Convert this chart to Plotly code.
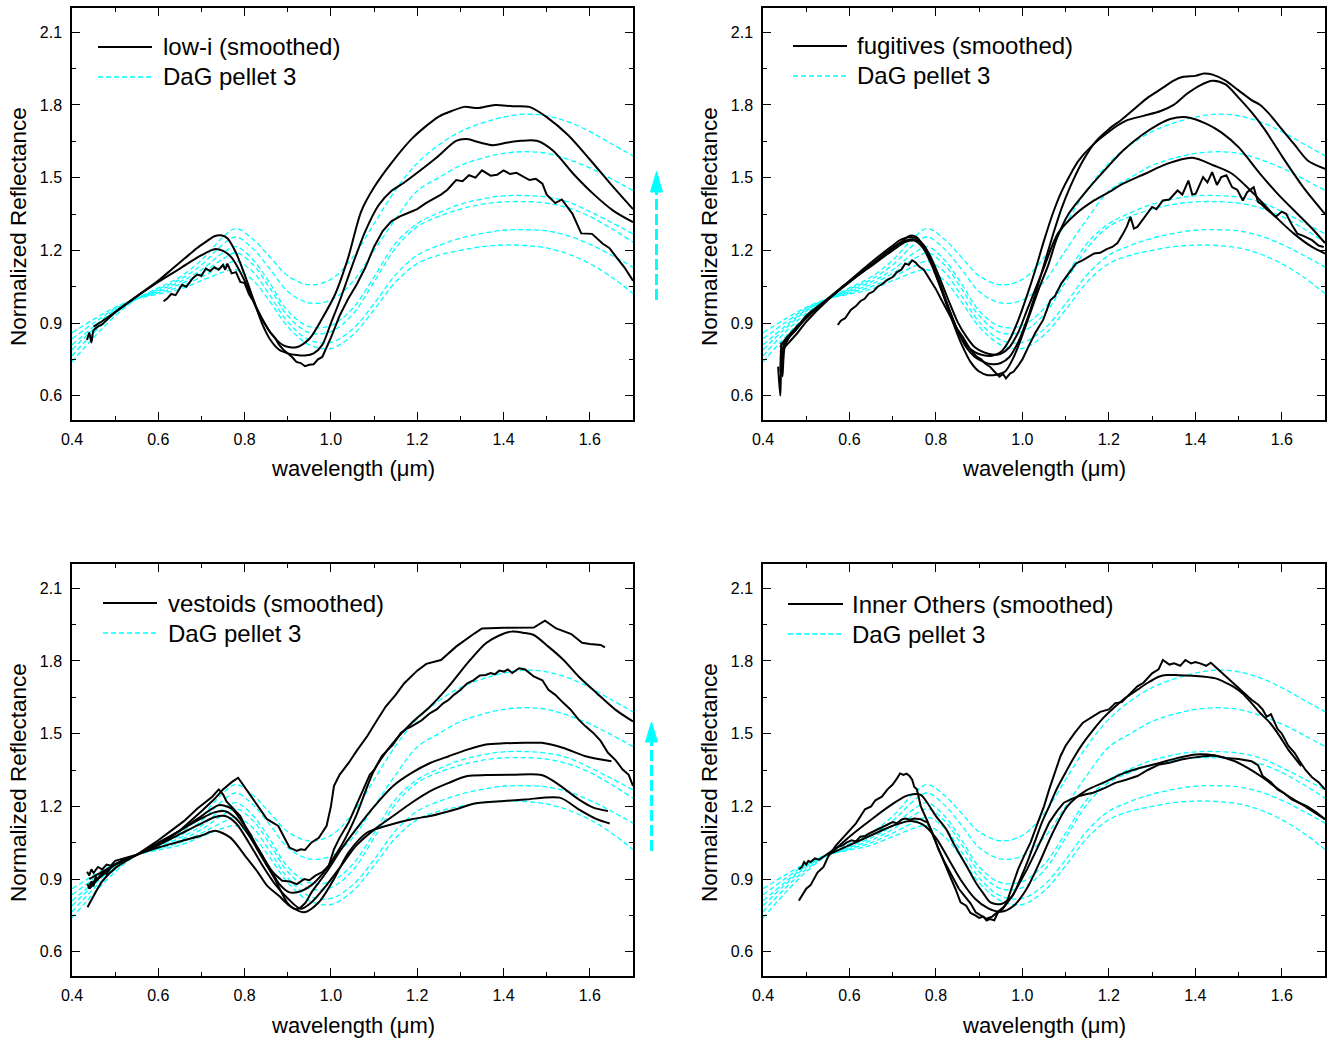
import plotly.graph_objects as go

# ---------------------------------------------------------------- data
# DaG pellet 3 laboratory spectra (same set drawn in every panel)
dag_wl = [0.40, 0.45, 0.50, 0.55, 0.60, 0.65, 0.70, 0.75, 0.78, 0.82, 0.86, 0.90, 0.95, 1.00,
          1.05, 1.10, 1.15, 1.20, 1.25, 1.30, 1.35, 1.40, 1.45, 1.50, 1.55, 1.60, 1.65, 1.70]
dag_1 = [0.74, 0.84, 0.93, 1.00, 1.045, 1.09, 1.16, 1.255, 1.29, 1.245, 1.17, 1.095, 1.058, 1.08,
         1.17, 1.31, 1.45, 1.56, 1.635, 1.69, 1.725, 1.75, 1.762, 1.755, 1.73, 1.69, 1.64, 1.59]
dag_2 = [0.765, 0.86, 0.94, 1.00, 1.04, 1.08, 1.14, 1.225, 1.255, 1.205, 1.12, 1.03, 0.983, 0.995,
         1.07, 1.20, 1.33, 1.445, 1.50, 1.55, 1.58, 1.60, 1.607, 1.60, 1.575, 1.54, 1.495, 1.447]
dag_3 = [0.79, 0.875, 0.95, 1.00, 1.035, 1.07, 1.12, 1.19, 1.215, 1.16, 1.06, 0.95, 0.885, 0.89,
         0.96, 1.09, 1.23, 1.31, 1.355, 1.39, 1.412, 1.425, 1.426, 1.42, 1.40, 1.36, 1.315, 1.268]
dag_4 = [0.81, 0.885, 0.955, 1.00, 1.03, 1.06, 1.105, 1.165, 1.19, 1.14, 1.04, 0.93, 0.86, 0.865,
         0.935, 1.07, 1.21, 1.298, 1.34, 1.37, 1.39, 1.40, 1.401, 1.395, 1.375, 1.34, 1.29, 1.234]
dag_5 = [0.835, 0.90, 0.96, 1.00, 1.025, 1.05, 1.09, 1.135, 1.155, 1.11, 1.01, 0.905, 0.83, 0.82,
         0.875, 0.98, 1.10, 1.18, 1.22, 1.25, 1.27, 1.283, 1.285, 1.28, 1.26, 1.225, 1.18, 1.131]
dag_6 = [0.86, 0.915, 0.965, 1.00, 1.02, 1.04, 1.075, 1.11, 1.12, 1.075, 0.985, 0.885, 0.81, 0.795,
         0.85, 0.955, 1.07, 1.145, 1.18, 1.20, 1.215, 1.222, 1.22, 1.21, 1.185, 1.145, 1.09, 1.022]

# ---- low-i
low_i_a_wl = [0.45, 0.48, 0.50, 0.55, 0.60, 0.65, 0.70, 0.73, 0.75, 0.77, 0.80, 0.83, 0.86, 0.89,
              0.92, 0.95, 0.98, 1.01, 1.04, 1.07, 1.10, 1.14, 1.19, 1.25, 1.28, 1.31, 1.34, 1.38,
              1.42, 1.46, 1.50, 1.55, 1.60, 1.65, 1.70]
low_i_a_r = [0.885, 0.92, 0.945, 1.01, 1.07, 1.125, 1.18, 1.205, 1.198, 1.17, 1.075, 0.955, 0.86,
             0.808, 0.80, 0.835, 0.92, 1.02, 1.17, 1.36, 1.46, 1.56, 1.665, 1.752, 1.775, 1.792,
             1.787, 1.80, 1.795, 1.792, 1.75, 1.675, 1.575, 1.47, 1.37]
low_i_b_wl = [0.435, 0.44, 0.445, 0.45, 0.46, 0.47, 0.50, 0.55, 0.60, 0.63, 0.66, 0.69, 0.71, 0.73,
              0.745, 0.76, 0.78, 0.80, 0.82, 0.84, 0.86, 0.88, 0.90, 0.92, 0.94, 0.96, 0.98, 1.00,
              1.02, 1.05, 1.08, 1.11, 1.14, 1.17, 1.20, 1.245, 1.29, 1.315, 1.345, 1.376, 1.41,
              1.44, 1.477, 1.515, 1.562, 1.608, 1.654, 1.70]
low_i_b_r = [0.83, 0.86, 0.82, 0.87, 0.885, 0.895, 0.945, 1.01, 1.075, 1.12, 1.165, 1.21, 1.235,
             1.258, 1.262, 1.25, 1.19, 1.10, 1.00, 0.90, 0.83, 0.79, 0.775, 0.768, 0.766, 0.775,
             0.81, 0.90, 0.99, 1.14, 1.28, 1.385, 1.445, 1.48, 1.52, 1.583, 1.652, 1.659, 1.645,
             1.634, 1.645, 1.652, 1.652, 1.611, 1.515, 1.433, 1.364, 1.316]
low_i_c_wl = [0.612, 0.62, 0.63, 0.64, 0.655, 0.665, 0.68, 0.69, 0.70, 0.71, 0.72, 0.73, 0.74, 0.75,
              0.755, 0.76, 0.77, 0.78, 0.79, 0.80, 0.81, 0.82, 0.835, 0.85, 0.86, 0.87, 0.88, 0.89,
              0.90, 0.91, 0.92, 0.93, 0.94, 0.95, 0.96, 0.97, 0.98, 0.99, 1.00, 1.02, 1.04, 1.06,
              1.08, 1.10, 1.12, 1.14, 1.16, 1.18, 1.20, 1.22, 1.24, 1.255, 1.27, 1.29, 1.305, 1.32,
              1.335, 1.35, 1.37, 1.385, 1.40, 1.415, 1.43, 1.445, 1.46, 1.475, 1.49, 1.50, 1.52,
              1.535, 1.56, 1.58, 1.605, 1.63, 1.645, 1.66, 1.68, 1.70]
low_i_c_r = [0.99, 1.0, 1.02, 1.015, 1.058, 1.05, 1.085, 1.10, 1.095, 1.125, 1.115, 1.13, 1.12, 1.14,
             1.12, 1.145, 1.105, 1.11, 1.07, 1.065, 1.02, 0.99, 0.93, 0.89, 0.86, 0.84, 0.81, 0.79,
             0.775, 0.76, 0.74, 0.735, 0.722, 0.728, 0.73, 0.75, 0.76, 0.80, 0.84, 0.93, 1.0, 1.06,
             1.13, 1.215, 1.28, 1.32, 1.34, 1.355, 1.37, 1.395, 1.415, 1.43, 1.45, 1.49, 1.485,
             1.51, 1.50, 1.53, 1.508, 1.512, 1.53, 1.515, 1.52, 1.505, 1.49, 1.495, 1.475, 1.43,
             1.395, 1.41, 1.35, 1.27, 1.268, 1.227, 1.21, 1.175, 1.13, 1.075]

# ---- fugitives
fug_a_wl = [0.44, 0.442, 0.445, 0.45, 0.46, 0.48, 0.50, 0.55, 0.60, 0.65, 0.68, 0.70, 0.72, 0.74,
            0.755, 0.77, 0.79, 0.81, 0.83, 0.85, 0.87, 0.89, 0.91, 0.93, 0.95, 0.97, 0.99, 1.01,
            1.03, 1.05, 1.07, 1.09, 1.11, 1.14, 1.17, 1.20, 1.23, 1.26, 1.29, 1.32, 1.35, 1.37,
            1.40, 1.42, 1.44, 1.47, 1.50, 1.53, 1.55, 1.57, 1.60, 1.63, 1.66, 1.70]
fug_a_r = [0.70, 0.82, 0.68, 0.80, 0.84, 0.88, 0.93, 1.00, 1.07, 1.14, 1.18, 1.21, 1.235, 1.26,
           1.255, 1.22, 1.15, 1.06, 0.96, 0.87, 0.80, 0.76, 0.74, 0.73, 0.735, 0.76, 0.82, 0.91,
           1.02, 1.14, 1.26, 1.37, 1.46, 1.57, 1.65, 1.70, 1.74, 1.785, 1.83, 1.865, 1.90, 1.915,
           1.92, 1.93, 1.925, 1.90, 1.86, 1.82, 1.80, 1.765, 1.70, 1.635, 1.571, 1.536]
fug_b_wl = [0.44, 0.45, 0.48, 0.50, 0.55, 0.60, 0.65, 0.70, 0.73, 0.75, 0.77, 0.79, 0.81, 0.83,
            0.85, 0.87, 0.89, 0.91, 0.93, 0.95, 0.97, 0.99, 1.01, 1.03, 1.05, 1.07, 1.09, 1.11,
            1.13, 1.16, 1.20, 1.24, 1.28, 1.32, 1.35, 1.38, 1.41, 1.44, 1.47, 1.50, 1.53, 1.56,
            1.60, 1.65, 1.70]
fug_b_r = [0.78, 0.80, 0.86, 0.905, 0.995, 1.07, 1.135, 1.20, 1.235, 1.24, 1.21, 1.14, 1.05, 0.96,
           0.87, 0.81, 0.78, 0.767, 0.765, 0.78, 0.83, 0.91, 1.01, 1.12, 1.24, 1.35, 1.44, 1.51,
           1.57, 1.63, 1.69, 1.735, 1.755, 1.775, 1.80, 1.845, 1.88, 1.90, 1.885, 1.83, 1.77,
           1.70, 1.59, 1.46, 1.35]
fug_c_wl = [0.435, 0.44, 0.443, 0.45, 0.47, 0.50, 0.55, 0.60, 0.65, 0.70, 0.72, 0.74, 0.76, 0.78,
            0.80, 0.82, 0.84, 0.86, 0.88, 0.90, 0.92, 0.94, 0.96, 0.98, 1.00, 1.02, 1.04, 1.06,
            1.08, 1.107, 1.149, 1.19, 1.233, 1.275, 1.317, 1.342, 1.38, 1.426, 1.46, 1.50, 1.55,
            1.59, 1.636, 1.67, 1.70]
fug_c_r = [0.72, 0.60, 0.76, 0.82, 0.86, 0.92, 1.00, 1.075, 1.15, 1.22, 1.245, 1.255, 1.245, 1.19,
           1.10, 1.00, 0.90, 0.81, 0.74, 0.70, 0.685, 0.687, 0.70, 0.76, 0.85, 0.95, 1.05, 1.14,
           1.25, 1.351, 1.447, 1.53, 1.612, 1.674, 1.722, 1.742, 1.749, 1.722, 1.687, 1.626,
           1.516, 1.434, 1.351, 1.29, 1.23]
fug_d_wl = [0.44, 0.45, 0.47, 0.50, 0.55, 0.60, 0.65, 0.70, 0.73, 0.75, 0.77, 0.79, 0.81, 0.83,
            0.85, 0.87, 0.89, 0.91, 0.93, 0.95, 0.97, 0.99, 1.01, 1.03, 1.05, 1.082, 1.124, 1.166,
            1.20, 1.233, 1.284, 1.334, 1.393, 1.443, 1.485, 1.535, 1.586, 1.628, 1.67, 1.70]
fug_d_r = [0.80, 0.83, 0.87, 0.925, 1.00, 1.07, 1.14, 1.21, 1.24, 1.245, 1.225, 1.165, 1.08, 0.99,
           0.905, 0.845, 0.80, 0.78, 0.77, 0.773, 0.80, 0.86, 0.95, 1.04, 1.13, 1.269, 1.351,
           1.406, 1.44, 1.475, 1.516, 1.557, 1.582, 1.55, 1.516, 1.434, 1.338, 1.269, 1.214, 1.187]
fug_e_wl = [0.573, 0.58, 0.59, 0.603, 0.615, 0.625, 0.635, 0.645, 0.655, 0.665,
            0.675, 0.687, 0.70, 0.71, 0.72, 0.729, 0.737, 0.745, 0.753, 0.762,
            0.772, 0.787, 0.80, 0.813, 0.83, 0.846, 0.863, 0.88, 0.895, 0.905,
            0.913, 0.925, 0.935, 0.947, 0.955, 0.962, 0.972, 0.98, 0.989, 1.00,
            1.014, 1.03, 1.048, 1.057, 1.065, 1.075, 1.09, 1.105, 1.124, 1.14,
            1.155, 1.166, 1.18, 1.195, 1.208, 1.22, 1.233, 1.242, 1.25, 1.258,
            1.266, 1.275, 1.284, 1.292, 1.30, 1.31, 1.325, 1.34, 1.359, 1.37,
            1.384, 1.393, 1.401, 1.41, 1.418, 1.428, 1.439, 1.45, 1.46, 1.472,
            1.485, 1.497, 1.51, 1.52, 1.535, 1.545, 1.552, 1.565, 1.586, 1.60,
            1.61, 1.625, 1.636, 1.65, 1.67, 1.685, 1.697]
fug_e_r = [0.892, 0.91, 0.92, 0.954, 0.97, 0.99, 1.0, 1.022, 1.03, 1.05,
           1.06, 1.077, 1.09, 1.11, 1.12, 1.146, 1.14, 1.159, 1.15, 1.132,
           1.12, 1.077, 1.04, 0.995, 0.94, 0.885, 0.84, 0.789, 0.76, 0.75,
           0.734, 0.72, 0.70, 0.679, 0.69, 0.672, 0.693, 0.70, 0.721, 0.75,
           0.803, 0.86, 0.913, 0.96, 0.995, 1.01, 1.063, 1.10, 1.146, 1.16,
           1.175, 1.187, 1.19, 1.205, 1.214, 1.23, 1.269, 1.30, 1.338, 1.29,
           1.297, 1.32, 1.338, 1.36, 1.379, 1.37, 1.406, 1.41, 1.447, 1.43,
           1.488, 1.43, 1.434, 1.47, 1.502, 1.48, 1.523, 1.47, 1.502, 1.51,
           1.461, 1.45, 1.406, 1.44, 1.461, 1.40, 1.392, 1.37, 1.338, 1.36,
           1.351, 1.30, 1.269, 1.26, 1.242, 1.22, 1.214]

# ---- vestoids
ves_a_wl = [0.435, 0.44, 0.445, 0.45, 0.46, 0.47, 0.48, 0.49, 0.50, 0.55,
            0.60, 0.65, 0.70, 0.73, 0.75, 0.77, 0.785, 0.80, 0.826, 0.852,
            0.878, 0.904, 0.921, 0.93, 0.94, 0.955, 0.972, 0.99, 1.00, 1.007,
            1.02, 1.041, 1.06, 1.084, 1.105, 1.127, 1.15, 1.17, 1.20, 1.221,
            1.255, 1.29, 1.333, 1.35, 1.40, 1.47, 1.496, 1.522, 1.557, 1.582,
            1.60, 1.625, 1.635]
ves_a_r = [0.93, 0.915, 0.94, 0.925, 0.95, 0.94, 0.96, 0.955, 0.975, 1.0,
           1.04, 1.10, 1.18, 1.23, 1.27, 1.30, 1.318, 1.28, 1.215, 1.147,
           1.119, 1.03, 1.016, 1.023, 1.02, 1.051, 1.07, 1.12, 1.20, 1.284,
           1.33, 1.379, 1.43, 1.489, 1.55, 1.612, 1.66, 1.708, 1.76, 1.788,
           1.804, 1.859, 1.914, 1.934, 1.937, 1.938, 1.966, 1.934, 1.911, 1.875,
           1.87, 1.866, 1.856]
ves_b_wl = [0.436, 0.45, 0.47, 0.50, 0.55, 0.60, 0.65, 0.70, 0.74, 0.77, 0.80, 0.83, 0.86, 0.88,
            0.904, 0.93, 0.955, 0.98, 1.00, 1.024, 1.058, 1.101, 1.144, 1.187, 1.23, 1.273,
            1.316, 1.359, 1.39, 1.418, 1.45, 1.47, 1.504, 1.539, 1.574, 1.616, 1.659, 1.70]
ves_b_r = [0.784, 0.83, 0.89, 0.945, 1.0, 1.05, 1.10, 1.16, 1.205, 1.19, 1.12, 1.03, 0.94, 0.88,
           0.845, 0.85, 0.875, 0.92, 0.97, 1.037, 1.16, 1.352, 1.462, 1.544, 1.612, 1.695, 1.79,
           1.873, 1.905, 1.921, 1.915, 1.907, 1.859, 1.804, 1.736, 1.667, 1.599, 1.55]
ves_c_wl = [0.436, 0.44, 0.445, 0.45, 0.455, 0.46, 0.47, 0.48, 0.49, 0.50,
            0.52, 0.55, 0.60, 0.63, 0.66, 0.69, 0.71, 0.725, 0.74, 0.75,
            0.758, 0.775, 0.79, 0.801, 0.815, 0.826, 0.84, 0.852, 0.87, 0.887,
            0.905, 0.921, 0.93, 0.938, 0.95, 0.964, 0.981, 0.995, 1.007, 1.02,
            1.041, 1.06, 1.075, 1.09, 1.101, 1.118, 1.13, 1.144, 1.162, 1.175,
            1.187, 1.20, 1.21, 1.23, 1.245, 1.26, 1.273, 1.285, 1.30, 1.316,
            1.33, 1.345, 1.359, 1.37, 1.38, 1.39, 1.401, 1.41, 1.42, 1.436,
            1.45, 1.47, 1.49, 1.504, 1.52, 1.539, 1.555, 1.574, 1.59, 1.608,
            1.625, 1.642, 1.66, 1.676, 1.69, 1.70]
ves_c_r = [0.88, 0.86, 0.89, 0.87, 0.91, 0.90, 0.93, 0.92, 0.95, 0.96,
           0.98, 1.0, 1.06, 1.10, 1.14, 1.19, 1.22, 1.24, 1.27, 1.25,
           1.22, 1.19, 1.16, 1.12, 1.08, 1.04, 1.0, 0.955, 0.92, 0.893,
           0.89, 0.879, 0.89, 0.90, 0.895, 0.914, 0.93, 0.955, 1.023, 1.07,
           1.133, 1.21, 1.27, 1.33, 1.352, 1.407, 1.43, 1.455, 1.503, 1.52,
           1.53, 1.545, 1.555, 1.585, 1.60, 1.625, 1.64, 1.66, 1.68, 1.708,
           1.72, 1.74, 1.742, 1.75, 1.745, 1.76, 1.756, 1.765, 1.75, 1.77,
           1.765, 1.736, 1.72, 1.681, 1.66, 1.626, 1.60, 1.558, 1.53, 1.503,
           1.47, 1.421, 1.39, 1.352, 1.33, 1.284]
ves_d_wl = [0.44, 0.45, 0.47, 0.50, 0.55, 0.60, 0.65, 0.70, 0.73, 0.755, 0.78, 0.81, 0.84, 0.87,
            0.90, 0.92, 0.94, 0.955, 0.989, 1.024, 1.058, 1.101, 1.144, 1.187, 1.23, 1.273,
            1.316, 1.359, 1.40, 1.45, 1.488, 1.539, 1.59, 1.65]
ves_d_r = [0.86, 0.88, 0.92, 0.96, 1.0, 1.045, 1.10, 1.15, 1.175, 1.18, 1.15, 1.08, 0.99, 0.90,
           0.80, 0.775, 0.80, 0.845, 0.927, 1.023, 1.105, 1.201, 1.284, 1.338, 1.379, 1.407,
           1.434, 1.455, 1.46, 1.462, 1.462, 1.441, 1.407, 1.386]
ves_e_wl = [0.44, 0.46, 0.50, 0.55, 0.60, 0.65, 0.70, 0.73, 0.755, 0.78, 0.81, 0.84, 0.87, 0.90,
            0.93, 0.955, 0.989, 1.024, 1.058, 1.101, 1.144, 1.187, 1.23, 1.273, 1.316, 1.36,
            1.42, 1.488, 1.522, 1.574, 1.608, 1.642]
ves_e_r = [0.88, 0.90, 0.96, 1.0, 1.04, 1.085, 1.13, 1.155, 1.16, 1.13, 1.05, 0.96, 0.88, 0.82,
           0.777, 0.804, 0.873, 0.955, 1.037, 1.105, 1.16, 1.215, 1.263, 1.297, 1.325, 1.329,
           1.33, 1.329, 1.297, 1.229, 1.195, 1.181]
ves_f_wl = [0.44, 0.46, 0.50, 0.55, 0.60, 0.65, 0.70, 0.732, 0.767, 0.801, 0.83, 0.852, 0.88,
            0.904, 0.938, 0.972, 1.007, 1.041, 1.084, 1.127, 1.187, 1.23, 1.29, 1.333, 1.401,
            1.45, 1.53, 1.574, 1.616, 1.646]
ves_f_r = [0.90, 0.92, 0.96, 1.0, 1.03, 1.055, 1.08, 1.099, 1.071, 0.996, 0.93, 0.873, 0.83,
           0.79, 0.763, 0.804, 0.90, 1.01, 1.092, 1.119, 1.147, 1.16, 1.188, 1.212, 1.222,
           1.228, 1.236, 1.188, 1.147, 1.129]

# ---- inner others
inn_a_wl = [0.483, 0.49, 0.50, 0.51, 0.526, 0.54, 0.55, 0.568, 0.58, 0.60,
            0.615, 0.636, 0.65, 0.66, 0.675, 0.688, 0.70, 0.708, 0.717, 0.725,
            0.732, 0.739, 0.745, 0.75, 0.756, 0.765, 0.78, 0.793, 0.806, 0.82,
            0.832, 0.845, 0.857, 0.87, 0.88, 0.892, 0.90, 0.91, 0.917, 0.925,
            0.935, 0.943, 0.955, 0.965, 0.977, 0.99, 1.005, 1.019, 1.035, 1.05,
            1.062, 1.075, 1.088, 1.10, 1.121, 1.14, 1.164, 1.18, 1.20, 1.215,
            1.23, 1.25, 1.266, 1.28, 1.30, 1.315, 1.325, 1.34, 1.351, 1.365,
            1.377, 1.39, 1.40, 1.411, 1.425, 1.436, 1.45, 1.462, 1.48, 1.496,
            1.51, 1.53, 1.545, 1.556, 1.565, 1.575, 1.59, 1.60, 1.615, 1.63,
            1.64, 1.655, 1.67, 1.685, 1.70]
inn_a_r = [0.811, 0.83, 0.86, 0.875, 0.927, 0.95, 0.99, 1.037, 1.06, 1.10,
           1.13, 1.188, 1.20, 1.225, 1.24, 1.27, 1.29, 1.31, 1.336, 1.33,
           1.335, 1.325, 1.31, 1.28, 1.27, 1.20, 1.14, 1.08, 1.023, 0.96,
           0.914, 0.86, 0.804, 0.79, 0.76, 0.749, 0.74, 0.745, 0.729, 0.735,
           0.73, 0.76, 0.777, 0.81, 0.873, 0.94, 1.0, 1.051, 1.13, 1.20,
           1.27, 1.34, 1.407, 1.45, 1.503, 1.545, 1.571, 1.59, 1.60, 1.626,
           1.63, 1.665, 1.695, 1.71, 1.749, 1.765, 1.804, 1.785, 1.79, 1.78,
           1.804, 1.79, 1.795, 1.79, 1.78, 1.793, 1.77, 1.749, 1.72, 1.695,
           1.67, 1.64, 1.62, 1.599, 1.57, 1.58, 1.52, 1.50, 1.45, 1.42,
           1.39, 1.35, 1.32, 1.30, 1.27]
inn_b_wl = [0.55, 0.60, 0.65, 0.70, 0.73, 0.747, 0.765, 0.78, 0.80, 0.824,
            0.84, 0.857, 0.875, 0.892, 0.91, 0.926, 0.951, 0.977, 0.995, 1.011,
            1.028, 1.045, 1.062, 1.079, 1.10, 1.121, 1.14, 1.164, 1.19, 1.215,
            1.24, 1.266, 1.29, 1.317, 1.334, 1.36, 1.40, 1.445, 1.465, 1.487,
            1.51, 1.53, 1.55, 1.573, 1.595, 1.615, 1.63, 1.645]
inn_b_r = [0.995, 1.075, 1.145, 1.21, 1.242, 1.25, 1.247, 1.215, 1.16, 1.105,
           1.05, 0.996, 0.94, 0.886, 0.84, 0.804, 0.797, 0.831, 0.90, 0.968,
           1.05, 1.133, 1.20, 1.27, 1.34, 1.407, 1.46, 1.516, 1.57, 1.612,
           1.65, 1.681, 1.71, 1.736, 1.742, 1.741, 1.738, 1.729, 1.715, 1.695,
           1.665, 1.626, 1.585, 1.544, 1.49, 1.434, 1.40, 1.366]
inn_c_wl = [0.483, 0.49, 0.495, 0.50, 0.505, 0.51, 0.52, 0.53, 0.543, 0.555,
            0.57, 0.585, 0.594, 0.605, 0.615, 0.625, 0.636, 0.648, 0.66, 0.67,
            0.679, 0.69, 0.70, 0.71, 0.722, 0.73, 0.74, 0.75, 0.764, 0.772,
            0.781, 0.79, 0.806, 0.82, 0.84, 0.853, 0.866, 0.88, 0.892, 0.905,
            0.917, 0.93, 0.943, 0.96, 0.977, 0.995, 1.011, 1.03, 1.045, 1.062,
            1.08, 1.096, 1.113, 1.13, 1.147, 1.164, 1.19, 1.215, 1.24, 1.266,
            1.29, 1.317, 1.34, 1.368, 1.39, 1.419, 1.445, 1.47, 1.50, 1.53,
            1.545, 1.556, 1.575, 1.59, 1.605, 1.623, 1.64, 1.658, 1.68, 1.70]
inn_c_r = [0.941, 0.95, 0.97, 0.96, 0.975, 0.97, 0.985, 0.98, 0.996, 1.01,
           1.03, 1.04, 1.051, 1.06, 1.055, 1.075, 1.078, 1.09, 1.10, 1.11,
           1.119, 1.125, 1.135, 1.13, 1.147, 1.15, 1.145, 1.15, 1.147, 1.14,
           1.133, 1.10, 1.023, 0.97, 0.90, 0.86, 0.831, 0.80, 0.763, 0.75,
           0.736, 0.745, 0.763, 0.79, 0.831, 0.89, 0.941, 1.01, 1.07, 1.133,
           1.18, 1.215, 1.23, 1.242, 1.25, 1.256, 1.275, 1.297, 1.31, 1.325,
           1.35, 1.373, 1.38, 1.393, 1.40, 1.407, 1.41, 1.40, 1.395, 1.386,
           1.37, 1.325, 1.30, 1.27, 1.255, 1.229, 1.215, 1.201, 1.175, 1.147]
inn_d_wl = [0.55, 0.60, 0.65, 0.70, 0.74, 0.77, 0.80, 0.83, 0.86, 0.89, 0.92, 0.95, 0.98, 1.01,
            1.04, 1.07, 1.104, 1.147, 1.19, 1.232, 1.275, 1.317, 1.36, 1.402, 1.445, 1.487,
            1.52, 1.555, 1.585, 1.615, 1.658, 1.70]
inn_d_r = [1.0, 1.04, 1.08, 1.12, 1.14, 1.125, 1.07, 0.98, 0.89, 0.82, 0.78, 0.765, 0.79, 0.86,
           0.97, 1.09, 1.20, 1.265, 1.30, 1.335, 1.36, 1.379, 1.40, 1.414, 1.41, 1.389, 1.36,
           1.32, 1.28, 1.242, 1.195, 1.147]

group_labels = ["low-i (smoothed)", "fugitives (smoothed)", "vestoids (smoothed)",
                "Inner Others (smoothed)"]
dag_label = "DaG pellet 3"
x_ticks = [0.4, 0.6, 0.8, 1.0, 1.2, 1.4, 1.6]
y_ticks = [0.6, 0.9, 1.2, 1.5, 1.8, 2.1]

# ---------------------------------------------------------------- style / layout
W, H = 1336, 1040
FONT = "Arial, 'Liberation Sans', Helvetica, sans-serif"
BLACK = "#000000"
CYAN = "#00FFFF"

boxes = [(72, 633, 8, 420), (763, 1325, 8, 420), (72, 633, 564, 976), (763, 1325, 564, 976)]
legend_pos = [(98, 152, 47, 77, 161), (793, 847, 46, 76, 855),
              (103, 157, 603, 633, 166), (788, 843, 604, 634, 850)]
arrows = [(656.5, 171.5, 192, 300), None, (651.5, 722, 742, 851), None]


def px(x):
    return x / W


def py(y):
    return 1 - y / H


dag_sets = [dag_1, dag_2, dag_3, dag_4, dag_5, dag_6]
panel_curves = [
    [(low_i_a_wl, low_i_a_r, "spline"), (low_i_b_wl, low_i_b_r, "spline"),
     (low_i_c_wl, low_i_c_r, "linear")],
    [(fug_a_wl, fug_a_r, "spline"), (fug_b_wl, fug_b_r, "spline"),
     (fug_c_wl, fug_c_r, "spline"), (fug_d_wl, fug_d_r, "spline"),
     (fug_e_wl, fug_e_r, "linear")],
    [(ves_a_wl, ves_a_r, "linear"), (ves_b_wl, ves_b_r, "spline"),
     (ves_c_wl, ves_c_r, "linear"), (ves_d_wl, ves_d_r, "spline"),
     (ves_e_wl, ves_e_r, "spline"), (ves_f_wl, ves_f_r, "spline")],
    [(inn_a_wl, inn_a_r, "linear"), (inn_b_wl, inn_b_r, "spline"),
     (inn_c_wl, inn_c_r, "linear"), (inn_d_wl, inn_d_r, "spline")],
]

fig = go.Figure()
for i, curves in enumerate(panel_curves):
    xa = "x" if i == 0 else f"x{i + 1}"
    ya = "y" if i == 0 else f"y{i + 1}"
    for d in dag_sets:
        assert len(d) == len(dag_wl)
        fig.add_trace(go.Scatter(
            x=dag_wl, y=d, xaxis=xa, yaxis=ya, mode="lines", name=dag_label,
            line=dict(color=CYAN, width=1.3, dash="5px,3px", shape="spline", smoothing=1.0),
            showlegend=False, hoverinfo="skip"))
    for wl, r, shp in curves:
        assert len(wl) == len(r), (len(wl), len(r))
        line = dict(color=BLACK, width=2, shape=shp)
        if shp == "spline":
            line["smoothing"] = 0.8
        fig.add_trace(go.Scatter(
            x=wl, y=r, xaxis=xa, yaxis=ya, mode="lines", name=group_labels[i],
            line=line, showlegend=False, hoverinfo="skip"))

common = dict(showline=True, linecolor="black", linewidth=1.5, mirror="ticks",
              ticks="inside", ticklen=8, tickwidth=1.3, tickcolor="black",
              showgrid=False, zeroline=False, fixedrange=True, automargin=False,
              tickfont=dict(family=FONT, size=16, color="black"))

shapes = []
annotations = []
for i, (x0, x1, y0, y1) in enumerate(boxes):
    sfx = "" if i == 0 else str(i + 1)
    fig.layout["xaxis" + sfx] = dict(
        domain=[px(x0), px(x1)], anchor="y" + sfx, range=[0.4, 1.7],
        tickmode="array", tickvals=x_ticks, ticktext=[f"{v:.1f}" for v in x_ticks],
        ticklabelstandoff=4,
        minor=dict(tickmode="linear", tick0=0.4, dtick=0.1, ticklen=4, tickwidth=1.3,
                   tickcolor="black", ticks="inside", showgrid=False),
        **common)
    fig.layout["yaxis" + sfx] = dict(
        domain=[py(y1), py(y0)], anchor="x" + sfx, range=[0.5, 2.2],
        tickmode="array", tickvals=y_ticks, ticktext=[f"{v:.1f}" for v in y_ticks],
        ticklabelstandoff=5,
        minor=dict(tickmode="linear", tick0=0.45, dtick=0.15, ticklen=4, tickwidth=1.3,
                   tickcolor="black", ticks="inside", showgrid=False),
        **common)

    # axis titles
    annotations.append(dict(text="wavelength (\u03bcm)", xref="paper", yref="paper",
                            x=px((x0 + x1) / 2), y=py(y1 + 49), xanchor="center",
                            yanchor="middle", showarrow=False,
                            font=dict(family=FONT, size=22, color="black")))
    annotations.append(dict(text="Normalized Reflectance", xref="paper", yref="paper",
                            x=px(x0 - 54), y=py((y0 + y1) / 2 + 13), xanchor="center",
                            yanchor="middle", textangle=-90, showarrow=False,
                            font=dict(family=FONT, size=22.5, color="black")))

    # legend (drawn inside the panel like the original)
    lx0, lx1, ly1, ly2, tx = legend_pos[i]
    shapes.append(dict(type="line", xref="paper", yref="paper", x0=px(lx0), x1=px(lx1),
                       y0=py(ly1), y1=py(ly1), line=dict(color=BLACK, width=2)))
    shapes.append(dict(type="line", xref="paper", yref="paper", x0=px(lx0), x1=px(lx1),
                       y0=py(ly2), y1=py(ly2), line=dict(color=CYAN, width=1.3, dash="5px,3px")))
    annotations.append(dict(text=group_labels[i], xref="paper", yref="paper", x=px(tx),
                            y=py(ly1), xanchor="left", yanchor="middle", showarrow=False,
                            font=dict(family=FONT, size=24, color="black")))
    annotations.append(dict(text=dag_label, xref="paper", yref="paper", x=px(tx),
                            y=py(ly2), xanchor="left", yanchor="middle", showarrow=False,
                            font=dict(family=FONT, size=24, color="black")))

    # dashed cyan arrows
    if arrows[i] is not None:
        ax, tip, base, bottom = arrows[i]
        shapes.append(dict(type="line", xref="paper", yref="paper", x0=px(ax), x1=px(ax),
                           y0=py(bottom), y1=py(base - 1),
                           line=dict(color=CYAN, width=3, dash="11px,4px")))
        path = (f"M {px(ax - 6)},{py(base)} L {px(ax + 6)},{py(base)} "
                f"L {px(ax)},{py(tip)} Z")
        shapes.append(dict(type="path", xref="paper", yref="paper", path=path,
                           fillcolor=CYAN, line=dict(color=CYAN, width=1)))

fig.update_layout(width=W, height=H, autosize=False,
                  margin=dict(l=0, r=0, t=0, b=0, pad=0, autoexpand=False),
                  paper_bgcolor="white", plot_bgcolor="white", showlegend=False,
                  shapes=shapes, annotations=annotations,
                  font=dict(family=FONT, color="black"))

fig.write_html("out.html", include_plotlyjs=True, config={"displayModeBar": False},
               post_script="document.body.style.margin='0';"
                           "document.body.style.overflow='hidden';")
